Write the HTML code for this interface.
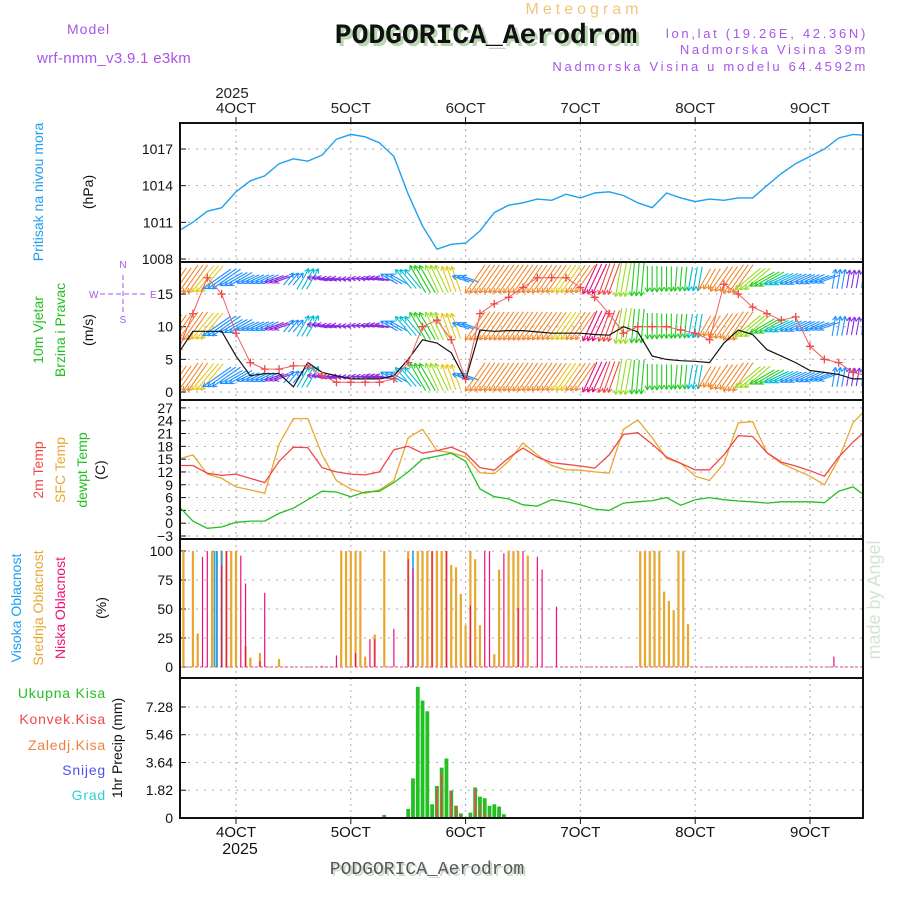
<!DOCTYPE html>
<html><head><meta charset="utf-8">
<style>
html,body{margin:0;padding:0;background:#fff;}
svg{display:block;font-family:"Liberation Sans",sans-serif;}
</style></head>
<body>
<svg id="chart" width="900" height="900" viewBox="0 0 900 900" xmlns="http://www.w3.org/2000/svg">
<defs>
<clipPath id="c1"><rect x="180" y="123" width="683" height="139"/></clipPath>
<clipPath id="c2"><rect x="180" y="262" width="683" height="138"/></clipPath>
<clipPath id="c3"><rect x="180" y="400" width="683" height="139"/></clipPath>
<clipPath id="c4"><rect x="180" y="539" width="683" height="139"/></clipPath>
<clipPath id="c5"><rect x="180" y="678" width="683" height="140"/></clipPath>
</defs>
<text x="584" y="14" text-anchor="middle" font-size="16" fill="#f2c57a" letter-spacing="4">Meteogram</text>
<text x="489" y="46" text-anchor="middle" font-size="28" font-weight="bold" font-family="Liberation Mono, monospace" fill="#b8d8b0">PODGORICA_Aerodrom</text>
<text x="486" y="43" text-anchor="middle" font-size="28" font-weight="bold" font-family="Liberation Mono, monospace" fill="#111">PODGORICA_Aerodrom</text>
<text x="67" y="34" font-size="14" fill="#a855e8" letter-spacing="1">Model</text>
<text x="37" y="63" font-size="15" fill="#a855e8" letter-spacing="0.3">wrf-nmm_v3.9.1 e3km</text>
<text x="868" y="38" text-anchor="end" font-size="13" fill="#a855e8" letter-spacing="2.7">lon,lat (19.26E, 42.36N)</text>
<text x="868" y="54" text-anchor="end" font-size="13" fill="#a855e8" letter-spacing="2.7">Nadmorska Visina 39m</text>
<text x="868" y="71" text-anchor="end" font-size="13" fill="#a855e8" letter-spacing="2.7">Nadmorska Visina u modelu 64.4592m</text>
<text x="232" y="98" text-anchor="middle" font-size="15" fill="#222">2025</text>
<text x="880" y="600" transform="rotate(-90 880 600)" text-anchor="middle" font-size="18" fill="#d4e4d4">made by Angel</text>
<text x="429" y="876" text-anchor="middle" font-size="18" font-family="Liberation Mono, monospace" fill="#c8d8c8">PODGORICA_Aerodrom</text>
<text x="427" y="874" text-anchor="middle" font-size="18" font-family="Liberation Mono, monospace" fill="#555">PODGORICA_Aerodrom</text>
<text x="240" y="854" text-anchor="middle" font-size="16" fill="#111">2025</text>
<text transform="translate(43,192) rotate(-90)" text-anchor="middle" font-size="14" fill="#1ea0f0">Pritisak na nivou mora</text>
<text transform="translate(93,192) rotate(-90)" text-anchor="middle" font-size="14" fill="#111">(hPa)</text>
<text transform="translate(43,330) rotate(-90)" text-anchor="middle" font-size="14" fill="#22c022">10m Vjetar</text>
<text transform="translate(65,330) rotate(-90)" text-anchor="middle" font-size="14" fill="#22c022">Brzina i Pravac</text>
<text transform="translate(93,330) rotate(-90)" text-anchor="middle" font-size="14" fill="#111">(m/s)</text>
<g fill="#a855e8" font-size="10" stroke="none">
<text x="123" y="268" text-anchor="middle">N</text><text x="123" y="323" text-anchor="middle">S</text>
<text x="89" y="298">W</text><text x="150" y="298">E</text>
<line x1="123" y1="275" x2="123" y2="312" stroke="#a855e8" stroke-dasharray="5,3"/>
<line x1="100" y1="294" x2="146" y2="294" stroke="#a855e8" stroke-dasharray="5,3"/>
</g>
<text transform="translate(43,470) rotate(-90)" text-anchor="middle" font-size="14" fill="#f04848">2m Temp</text>
<text transform="translate(65,470) rotate(-90)" text-anchor="middle" font-size="14" fill="#e8a830">SFC Temp</text>
<text transform="translate(87,470) rotate(-90)" text-anchor="middle" font-size="14" fill="#22c022">dewpt Temp</text>
<text transform="translate(105,470) rotate(-90)" text-anchor="middle" font-size="14" fill="#111">(C)</text>
<text transform="translate(21,608) rotate(-90)" text-anchor="middle" font-size="14" fill="#1ea0f0">Visoka Oblacnost</text>
<text transform="translate(43,608) rotate(-90)" text-anchor="middle" font-size="14" fill="#e8a830">Srednja Oblacnost</text>
<text transform="translate(65,608) rotate(-90)" text-anchor="middle" font-size="14" fill="#f0107a">Niska Oblacnost</text>
<text transform="translate(106,608) rotate(-90)" text-anchor="middle" font-size="14" fill="#111">(%)</text>
<g font-size="14" text-anchor="end" letter-spacing="0.8">
<text x="106" y="698" fill="#22c022">Ukupna  Kisa</text>
<text x="106" y="724" fill="#f04848">Konvek.Kisa</text>
<text x="106" y="750" fill="#f08040">Zaledj.Kisa</text>
<text x="106" y="775" fill="#5050f0">Snijeg</text>
<text x="106" y="800" fill="#30d0d0">Grad</text>
</g>
<text transform="translate(122,748) rotate(-90)" text-anchor="middle" font-size="14" fill="#111">1hr Precip (mm)</text>
<g id="marks"></g>
</svg>
<script>
const hours = [-12,-9,-6,-3,0,3,6,9,12,15,18,21,24,27,30,33,36,39,42,45,48,51,54,57,60,63,66,69,72,75,78,81,84,87,90,93,96,99,102,105,108,111,114,117,120,123,126,129,132];
const pressure = [1010.3,1011,1011.9,1012.2,1013.5,1014.4,1014.8,1015.8,1016.2,1016.0,1016.5,1017.8,1018.2,1018.0,1017.5,1016.4,1013.3,1010.7,1008.8,1009.2,1009.3,1010.3,1011.8,1012.4,1012.6,1012.9,1012.8,1013.3,1013.0,1013.4,1013.5,1013.2,1012.6,1012.2,1013.4,1013.0,1012.7,1012.9,1012.8,1013.0,1013.0,1014.0,1015.0,1015.8,1016.4,1017.0,1017.9,1018.2,1018.1];
const windSpeed = [6,9.3,9.3,9.3,5.5,2.5,2.8,2.8,0.8,4.5,3,2.5,2,2,2,2.5,5,8,7.5,6,1.8,9.5,9.3,9.4,9.4,9.2,9,9,9,8.8,8.7,10,9.2,5.5,5,4.8,4.7,4.5,7.5,9.5,8.8,6.5,5.5,4.5,3.3,3,2.7,2,2];
const windGust = [6.5,12,17.5,15,9,4.5,3.5,3.5,4,4,2.5,1.5,1.5,1.5,1.5,2,4.5,10,11,8,2,12,13.5,14.5,16,17.5,17.5,17.5,16,14.5,12,9,10,10,10,9.5,9,8,16.5,15,13,12,11,11.5,7,5,4.5,3,2.5];
const windDir = [215,215,220,235,240,245,245,250,40,30,280,275,270,275,280,300,320,330,335,340,290,215,215,215,215,215,215,215,215,205,200,190,185,180,180,185,190,210,215,215,230,240,245,245,245,250,10,10,5];
const windClass = [6,6,5,1,1,1,1,0,1,2,0,0,0,0,0,1,2,3,4,5,1,6,6,6,6,6,6,5,6,8,7,4,3,3,3,3,2,6,6,6,4,3,2,1,1,1,1,0,1];
const temp2m = [13.5,13.5,11.7,11.2,11.5,10.5,9.5,14.5,17.8,17.7,13,12,11.5,11.3,12,17.2,18,16.4,17,17.8,16.4,13,12.4,15.3,17.6,15.5,14.2,13.8,13.4,12.9,16,20.8,21.2,18.5,15.5,14,12.5,12.5,16,20.5,20.3,16.5,14.3,13.4,12.3,11,15.5,19,22];
const tempSfc = [15,16,11.5,10.5,8.5,7.8,7,18.5,24.5,24.5,16,10,8,7,7.8,10,20,22,17,16.5,15.5,11.8,11.6,14.5,18.8,16,13.5,12.5,12.4,12,11.7,22,24.2,20,15.2,14,11,10,14,23.5,23.8,16.5,14,12.5,11,9,15,23.5,27];
const tempDew = [4,0.5,-1.2,-0.9,0.2,0.5,0.5,2.3,3.5,5.5,7.5,7.3,6.2,7.3,7.5,9.5,12,15,15.7,16.4,14.5,8,6.2,5.7,4.3,4,5.5,5,4.3,3.3,3,4.7,5,5.3,6,4.2,5.5,6,5.5,5.2,5,4.7,5,5,5,4.8,7.5,8.5,6];
const cloudMidHours = [-11,-9,-8,-5,-4,-3,-2,-1,0,2,3,5,9,22,23,24,25,26,27,29,31,36,38,39,40,41,42,43,44,45,46,47,48,49,50,51,54,55,57,58,59,61,84.5,85.5,86.5,87.5,88.5,89.5,90.5,91.5,92.5,93.5,94.5];
const cloudMid = [100,100,29,100,100,100,100,100,100,18,8,12,7,100,100,100,100,100,9,28,100,100,100,100,100,100,100,100,100,88,86,63,36,100,93,36,11,84,100,100,100,96,100,100,100,100,100,65,57,49,100,100,37];
const cloudLowHours = [-7,-6,-3,-2,1,2,5,6,18,21,25,28,29,33,36,37,41,44,49,52,53,56,59,60,63,64,67,125];
const cloudLow = [95,100,88,100,96,72,5,64,1,10,12,24,24,33,93,85,100,100,53,100,100,98,51,100,95,84,52,9];
const cloudHighHours = [-4.5,-4,-3,37];
const cloudHigh = [100,100,100,100];
const precipHours = [31,36,37,38,39,40,41,42,43,44,45,46,47,49,50,51,52,53,54,55,56];
const precipTotal = [0.2,0.6,2.6,8.6,7.7,7.0,0.9,2.1,3.3,3.9,1.8,0.8,0.3,0.35,2.0,1.4,1.3,0.8,0.9,0.75,0.25];
const precipConvHours = [42,43,45,46,47,50,51,52,53];
const precipConv = [2.0,3.0,1.8,0.8,0.2,1.9,0.9,0.3,0.2];
const dayHours = [0,24,48,72,96,120];
const dayLabels = ["4OCT","5OCT","6OCT","7OCT","8OCT","9OCT"];
const pTicks = [1008,1011,1014,1017];
const wTicks = [0,5,10,15];
const tTicks = [-3,0,3,6,9,12,15,18,21,24,27];
const cTicks = [0,25,50,75,100];
const rTicks = [0,1.82,3.64,5.46,7.28];

const NS="http://www.w3.org/2000/svg";
const G=document.getElementById('marks');
function mk(tag,attrs,parent){const e=document.createElementNS(NS,tag);for(const k in attrs)e.setAttribute(k,attrs[k]);(parent||G).appendChild(e);return e;}
const X0=180,X1=863;
const xOf=h=>236+h*114.8/24;
const yP=v=>259-(v-1008)*12.22;
const yW=v=>392-v*6.53;
const yT=v=>536-(v+3)*4.27;
const yC=v=>667-v*1.16;
const yR=v=>818-v*15.25;
const panels=[[123,262],[262,400],[400,539],[539,678],[678,818]];

function grid(ticks,yf,top,bot,name){
  const g=mk('g',{});
  
  
  ticks.forEach(t=>{const y=yf(t);if(y>top+1&&y<bot-1)mk('line',{x1:X0,x2:X1,y1:y,y2:y,stroke:'#aaa','stroke-dasharray':'2,6'},g);});
  dayHours.forEach(d=>{const x=xOf(d);mk('line',{x1:x,x2:x,y1:top,y2:bot,stroke:'#aaa','stroke-dasharray':'2,4'},g);});
}
grid(pTicks,yP,123,262,'pressure-grid');
grid(wTicks,yW,262,400,'wind-grid');
grid(tTicks,yT,400,539,'temp-grid');
grid(cTicks,yC,539,678,'cloud-grid');
grid(rTicks,yR,678,818,'precip-grid');

function yLabels(ticks,yf,name,fmt){
  const g=mk('g',{'font-size':14,'text-anchor':'end',fill:'#111'});
  
  
  ticks.forEach(t=>{const y=yf(t);const tx=mk('text',{x:173,y:y+5},g);tx.textContent=fmt?fmt(t):String(t).replace('-','\u2212');mk('line',{x1:X0,x2:X0+6,y1:y,y2:y,stroke:'#111'},g);});
}
yLabels(pTicks,yP,'pressure-y-ticks');
yLabels(wTicks,yW,'wind-y-ticks');
yLabels(tTicks,yT,'temp-y-ticks');
yLabels(cTicks,yC,'cloud-y-ticks');
yLabels(rTicks,yR,'precip-y-ticks',t=>t===0?'0':t.toFixed(2));

dayHours.forEach((d,i)=>{
  const t1=mk('text',{x:xOf(d),y:113,'text-anchor':'middle','font-size':15,fill:'#222'});
  
  
  t1.textContent=dayLabels[i];
  const t2=mk('text',{x:xOf(d),y:837,'text-anchor':'middle','font-size':15,fill:'#111'});
  
  
  t2.textContent=dayLabels[i];
});

function line(vals,yf,color,clip,name,w){
  const d=vals.map((v,i)=>(i?'L':'M')+xOf(hours[i]).toFixed(1)+','+yf(v).toFixed(1)).join('');
  const p=mk('path',{d:d,fill:'none',stroke:color,'stroke-width':w||1.3,'clip-path':'url(#'+clip+')'});
  
  
  return p;
}
line(pressure,yP,'#1ea0f0','c1','pressure-line',1.4);

const pal=['#8a2be2','#1e90ff','#00bcd4','#22cc22','#99dd22','#e6c619','#f08a30','#f04848','#e0107a'];
const wg=mk('g',{'clip-path':'url(#c2)'});


const rows=[279,326,377];
hours.forEach((h,i)=>{
  const col=pal[windClass[i]];
  const L=14+windSpeed[i]*2.2;
  const a=windDir[i]*Math.PI/180;
  const dx=Math.sin(a)*L, dy=-Math.cos(a)*L;
  for(let k=-1;k<=1;k++){
    const cx=xOf(h)+k*4.8;
    rows.forEach(cy=>{
      const x1=cx-dx/2,y1=cy-dy/2,x2=cx+dx/2,y2=cy+dy/2;
      const ar=mk('path',{d:`M${x1},${y1}L${x2},${y2}M${x2},${y2}l${(-Math.sin(a-0.5)*5).toFixed(1)},${(Math.cos(a-0.5)*5).toFixed(1)}M${x2},${y2}l${(-Math.sin(a+0.5)*5).toFixed(1)},${(Math.cos(a+0.5)*5).toFixed(1)}`,stroke:col,'stroke-width':1.1,fill:'none'},wg);
      
      
    });
  }
});
line(windSpeed,yW,'#111','c2','wind-speed-line',1.2);
line(windGust,yW,'#f06060','c2','wind-gust-line',1);
const gg=mk('g',{'clip-path':'url(#c2)',stroke:'#f04848','stroke-width':1.3});


windGust.forEach((v,i)=>{const x=xOf(hours[i]),y=yW(v);
  const m=mk('path',{d:`M${x-4},${y}h8M${x},${y-4}v8`},gg);
  
  });

line(tempSfc,yT,'#e8a830','c3','sfc-temp-line',1.3);
line(temp2m,yT,'#f04848','c3','2m-temp-line',1.3);
line(tempDew,yT,'#22c022','c3','dewpt-temp-line',1.3);

function bars(hs,vals,yf,color,w,clip,name){
  const g=mk('g',{'clip-path':'url(#'+clip+')',fill:color});
  
  
  hs.forEach((h,i)=>{const y=yf(vals[i]);const b=mk('rect',{x:xOf(h)-w/2,y:y,width:w,height:yf(0)-y},g);
    
    });
}
mk('line',{x1:X0,x2:X1,y1:yC(0),y2:yC(0),stroke:'#e08ab0','stroke-width':1.5,'stroke-dasharray':'3,2'});
bars(cloudMidHours,cloudMid,yC,'#e8a830',2.2,'c4','cloud-mid-bars');
bars(cloudHighHours,cloudHigh,yC,'#1ea0f0',1.6,'c4','cloud-high-bars');
bars(cloudLowHours,cloudLow,yC,'#f0107a',1.2,'c4','cloud-low-bars');
bars(precipHours,precipTotal,yR,'#22c022',3.8,'c5','precip-total-bars');
bars(precipConvHours,precipConv,yR,'#f04848',1.6,'c5','precip-conv-bars');
mk('line',{x1:X0,x2:X1,y1:818,y2:818,stroke:'#111','stroke-width':2,'stroke-dasharray':'6,2'});

panels.forEach(p=>{const r=mk('rect',{x:X0,y:p[0],width:X1-X0,height:p[1]-p[0],fill:'none',stroke:'#111','stroke-width':2});
  
  });
dayHours.forEach(d=>{mk('line',{x1:xOf(d),x2:xOf(d),y1:818,y2:824,stroke:'#111'});mk('line',{x1:xOf(d),x2:xOf(d),y1:117,y2:123,stroke:'#111'});});
</script>
</body></html>
